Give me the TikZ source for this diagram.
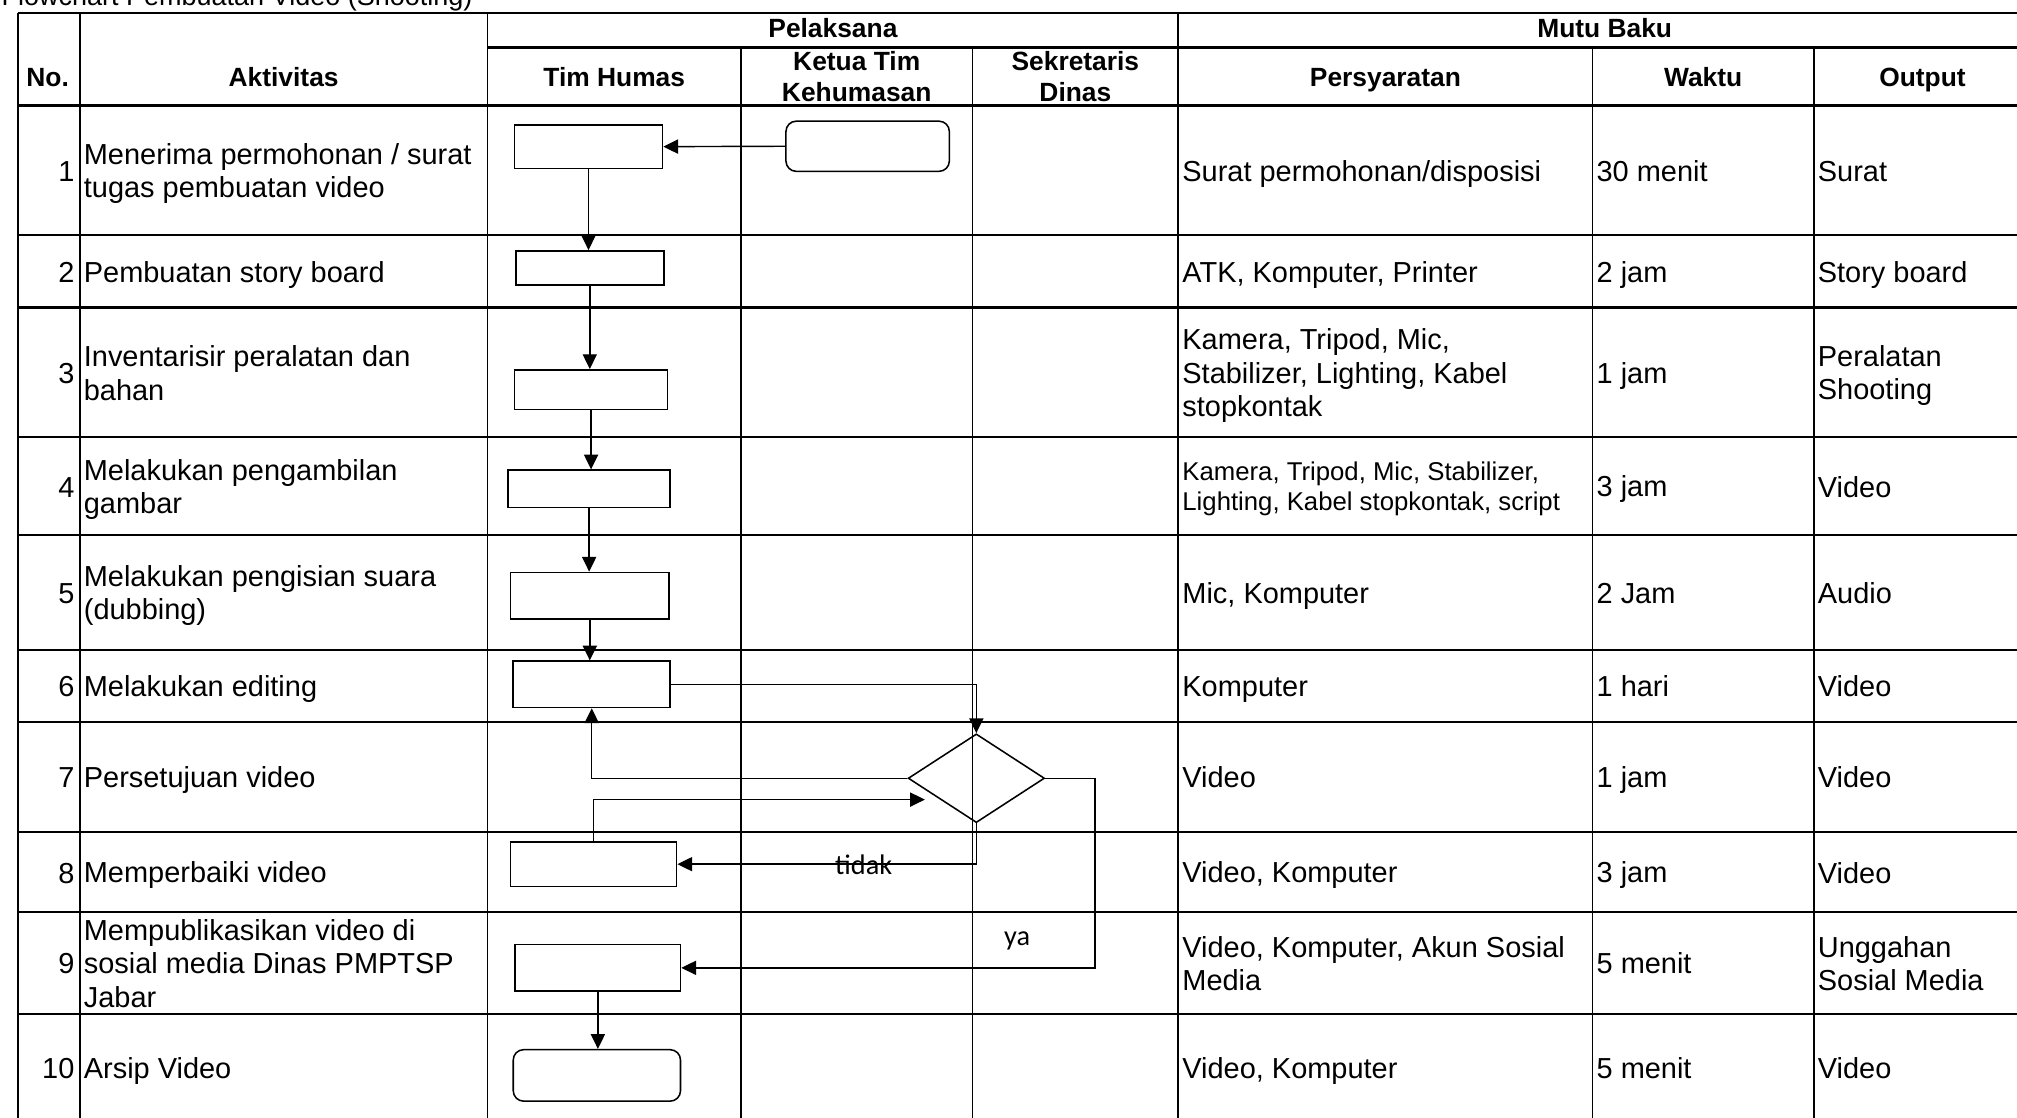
\documentclass[tikz,border=0pt]{standalone}
\usepackage{fontspec}
\setmainfont{Liberation Sans}
\newfontfamily\carlitofont{Carlito}
\usetikzlibrary{shapes.geometric,arrows.meta}
\newcommand{\bodystr}{\rule[-4.2pt]{0pt}{20.3pt}}
\newcommand{\smallstr}{\rule[-4.2pt]{0pt}{18.5pt}}
\newcommand{\headstr}{\rule[-4.2pt]{0pt}{18.9pt}}
\tikzset{
  hline/.style={line width=1.7pt},
  vline/.style={line width=1.4pt},
  cell/.style={anchor=west, inner sep=0pt, align=left, yshift=-2.5pt, font=\fontsize{22.5}{26}\selectfont,
     execute at begin node=\bodystr, execute at end node=\bodystr},
  smallcell/.style={anchor=west, inner sep=0pt, align=left, yshift=-2.5pt, font=\fontsize{20}{24}\selectfont,
     execute at begin node=\smallstr, execute at end node=\smallstr},
  num/.style={anchor=east, inner sep=0pt, yshift=-2.5pt, font=\fontsize{22.5}{26}\selectfont,
     execute at begin node=\bodystr},
  head/.style={anchor=center, inner sep=0pt, align=center, font=\fontsize{20.5}{24}\selectfont\bfseries,
     execute at begin node=\headstr, execute at end node=\headstr},
  titletext/.style={anchor=base west, inner sep=0pt, font=\fontsize{21}{24}\selectfont},
  proc/.style={draw, rectangle, line width=1.2pt, inner sep=0pt},
  term/.style={draw, rectangle, rounded corners=8pt, line width=1.2pt, inner sep=0pt},
  decision/.style={draw, diamond, line width=1.2pt, inner sep=0pt},
  arr/.style={line width=1.1pt, -{Triangle[length=11.5pt,width=11pt]}},
  lbl/.style={anchor=base, inner sep=0pt, font=\carlitofont\fontsize{22}{26}\selectfont},
}
\begin{document}
\begin{tikzpicture}[x=1pt,y=-1pt]
\useasboundingbox (0,0) rectangle (1568,869);
\clip (0,0) rectangle (1568,869);

% title (cut off at top, as in the reference)
\node[titletext] (title) at (1,4) {Flowchart Pembuatan Video (Shooting)};

% table grid
\draw[hline] (14,10) -- (1590,10);
\draw[hline] (379,37) -- (1590,37);
\foreach \yy in {82,183,239,340,416,505,561,647,709,788}
  \draw[hline] (14,\yy) -- (1590,\yy);
\foreach \xx in {14,62,379,916}
  \draw[vline] (\xx,10) -- (\xx,880);
\foreach \xx in {576,756,1238,1410}
  \draw[vline] (\xx,37) -- (\xx,880);

% header
\node[head] (hPel) at (647.5,23.5) {Pelaksana};
\node[head] (hMutu) at (1247.5,23.5) {Mutu Baku};
\node[head] (hNo) at (37,62) {No.};
\node[head] (hAkt) at (220.5,62) {Aktivitas};
\node[head] (hTim) at (477.5,62) {Tim Humas};
\node[head] (hKet) at (666,61.5) {Ketua Tim\\Kehumasan};
\node[head] (hSek) at (836,61.5) {Sekretaris\\Dinas};
\node[head] (hPer) at (1077,62) {Persyaratan};
\node[head] (hWak) at (1324,62) {Waktu};
\node[head] (hOut) at (1494.5,62) {Output};

% row numbers
\node[num] (n1) at (58,132.5) {1};
\node[num] (n2) at (58,211) {2};
\node[num] (n3) at (58,289.5) {3};
\node[num] (n4) at (58,378) {4};
\node[num] (n5) at (58,460.5) {5};
\node[num] (n6) at (58,533) {6};
\node[num] (n7) at (58,604) {7};
\node[num] (n8) at (58,678) {8};
\node[num] (n9) at (58,748.5) {9};
\node[num] (n10) at (58,830) {10};

% aktivitas
\node[cell] (a1) at (65,132.5) {Menerima permohonan / surat\\tugas pembuatan video};
\node[cell] (a2) at (65,211) {Pembuatan story board};
\node[cell] (a3) at (65,289.5) {Inventarisir peralatan dan\\bahan};
\node[cell] (a4) at (65,378) {Melakukan pengambilan\\gambar};
\node[cell] (a5) at (65,460.5) {Melakukan pengisian suara\\(dubbing)};
\node[cell] (a6) at (65,533) {Melakukan editing};
\node[cell] (a7) at (65,604) {Persetujuan video};
\node[cell] (a8) at (65,678) {Memperbaiki video};
\node[cell] (a9) at (65,748.5) {Mempublikasikan video di\\sosial media Dinas PMPTSP\\Jabar};
\node[cell] (a10) at (65,830) {Arsip Video};

% persyaratan
\node[cell] (p1) at (919,132.5) {Surat permohonan/disposisi};
\node[cell] (p2) at (919,211) {ATK, Komputer, Printer};
\node[cell] (p3) at (919,289.5) {Kamera, Tripod, Mic,\\Stabilizer, Lighting, Kabel\\stopkontak};
\node[smallcell] (p4) at (919,377.5) {Kamera, Tripod, Mic, Stabilizer,\\Lighting, Kabel stopkontak, script};
\node[cell] (p5) at (919,460.5) {Mic, Komputer};
\node[cell] (p6) at (919,533) {Komputer};
\node[cell] (p7) at (919,604) {Video};
\node[cell] (p8) at (919,678) {Video, Komputer};
\node[cell] (p9) at (919,748.5) {Video, Komputer, Akun Sosial\\Media};
\node[cell] (p10) at (919,830) {Video, Komputer};

% waktu
\node[cell] (w1) at (1241,132.5) {30 menit};
\node[cell] (w2) at (1241,211) {2 jam};
\node[cell] (w3) at (1241,289.5) {1 jam};
\node[cell] (w4) at (1241,378) {3 jam};
\node[cell] (w5) at (1241,460.5) {2 Jam};
\node[cell] (w6) at (1241,533) {1 hari};
\node[cell] (w7) at (1241,604) {1 jam};
\node[cell] (w8) at (1241,678) {3 jam};
\node[cell] (w9) at (1241,748.5) {5 menit};
\node[cell] (w10) at (1241,830) {5 menit};

% output
\node[cell] (o1) at (1413,132.5) {Surat};
\node[cell] (o2) at (1413,211) {Story board};
\node[cell] (o3) at (1413,289.5) {Peralatan\\Shooting};
\node[cell] (o4) at (1413,378) {Video};
\node[cell] (o5) at (1413,460.5) {Audio};
\node[cell] (o6) at (1413,533) {Video};
\node[cell] (o7) at (1413,604) {Video};
\node[cell] (o8) at (1413,678) {Video};
\node[cell] (o9) at (1413,748.5) {Unggahan\\Sosial Media};
\node[cell] (o10) at (1413,830) {Video};

% flowchart shapes
\node[proc, minimum width=115pt, minimum height=34pt] (b1) at (457.5,114) {};
\node[term, minimum width=127pt, minimum height=39pt] (t1) at (674.5,113.7) {};
\node[proc, minimum width=115pt, minimum height=26.5pt] (b2) at (458.5,208.3) {};
\node[proc, minimum width=119pt, minimum height=31pt] (b3) at (459.5,303) {};
\node[proc, minimum width=126pt, minimum height=29pt] (b4) at (458,380) {};
\node[proc, minimum width=123pt, minimum height=36.4pt] (b5) at (458.5,463.2) {};
\node[proc, minimum width=122pt, minimum height=36pt] (b6) at (460,532) {};
\node[decision, minimum width=106pt, minimum height=69pt] (d7) at (759,605) {};
\node[proc, minimum width=129pt, minimum height=34.5pt] (b8) at (461.5,671.8) {};
\node[proc, minimum width=128.5pt, minimum height=36.2pt] (b9) at (464.8,752.4) {};
\node[term, minimum width=130pt, minimum height=40pt] (t10) at (464,836) {};
\coordinate (c8) at (719,621.6);

% connectors
\draw[arr] (t1.west) -- (b1.east);
\draw[arr] (b1.south) -- (b1.south |- b2.north);
\draw[arr] (b2.south) -- (b2.south |- b3.north);
\draw[arr] (b3.south) -- (b3.south |- b4.north);
\draw[arr] (b4.south) -- (b4.south |- b5.north);
\draw[arr] (b5.south) -- (b5.south |- b6.north);
\draw[arr] (b6.east) -| (d7.north);
\draw[arr] (d7.west) -| (b6.south);
\draw[arr] (b8.north) |- (c8);
\draw[arr] (d7.south) |- (b8.east);
\draw[arr] (d7.east) -- ++(38.5,0) |- (b9.east);
\draw[arr] (b9.south) -- (b9.south |- t10.north);

% labels
\node[lbl] (ltidak) at (671.4,680) {tidak};
\node[lbl] (lya) at (790.7,734.8) {ya};
\end{tikzpicture}
\end{document}
